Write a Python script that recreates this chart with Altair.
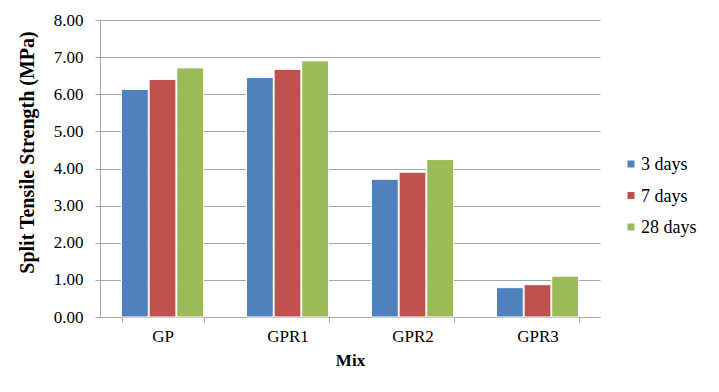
import altair as alt
import pandas as pd

mixes = ["GP", "GPR1", "GPR2", "GPR3"]
ages = ["3 days", "7 days", "28 days"]
days3 = [6.13, 6.45, 3.71, 0.79]
days7 = [6.40, 6.67, 3.90, 0.87]
days28 = [6.71, 6.90, 4.24, 1.10]
colors = ["#4F81BD", "#C0504D", "#9BBB59"]

rows = []
for i, m in enumerate(mixes):
    for a, vals in zip(ages, [days3, days7, days28]):
        rows.append({"Mix": m, "Age": a, "Value": vals[i]})
df = pd.DataFrame(rows)
leg_df = pd.DataFrame({"Age": ages})

font = "Liberation Serif"
axis_style = dict(labelFont=font, labelFontSize=17, labelColor="black",
                  titleFont=font, titleFontWeight="bold",
                  titleColor="black", domainColor="#A6A6A6", tickColor="#A6A6A6")
color_scale = alt.Scale(domain=ages, range=colors)

bars = alt.Chart(df).mark_bar(stroke="white", strokeWidth=1).encode(
    x=alt.X("Mix:N", sort=mixes,
            scale=alt.Scale(paddingInner=0.344, paddingOuter=0.172),
            axis=alt.Axis(title="Mix", labelAngle=0, tickBand="extent",
                          tickSize=5, labelPadding=6, titlePadding=8,
                          titleFontSize=17, grid=False, **axis_style)),
    xOffset=alt.XOffset("Age:N", sort=ages, scale=alt.Scale(paddingInner=0.03)),
    y=alt.Y("Value:Q", scale=alt.Scale(domain=[0, 8], nice=False),
            axis=alt.Axis(title="Split Tensile Strength (MPa)", format=".2f",
                          values=[0, 1, 2, 3, 4, 5, 6, 7, 8],
                          tickSize=5, labelPadding=12,
                          titleX=-63, titleY=132, titleFontSize=20,
                          titleBaseline="bottom", titleAngle=270,
                          gridColor="#A6A6A6", **axis_style)),
    color=alt.Color("Age:N", sort=ages, scale=color_scale, legend=None),
)

leg_y = alt.Y("Age:N", sort=ages, axis=None,
              scale=alt.Scale(type="point", domain=ages, range=[144, 207], padding=0))

leg_sym = alt.Chart(leg_df).mark_square(size=49, opacity=1).encode(
    x=alt.value(531), y=leg_y,
    color=alt.Color("Age:N", sort=ages, scale=color_scale, legend=None),
)
leg_txt = alt.Chart(leg_df).mark_text(
    align="left", baseline="middle", font=font, fontSize=18, color="black", dy=1
).encode(x=alt.value(541), y=leg_y, text="Age:N")

chart = alt.layer(bars, leg_sym, leg_txt).resolve_scale(y="independent").properties(
    width=500, height=297,
    background="white",
    autosize=alt.AutoSizeParams(type="none"),
    padding={"left": 92, "top": 12, "right": 103, "bottom": 58},
).configure_view(stroke=None)

chart.save("out.html", embed_options={"renderer": "svg", "actions": False})
